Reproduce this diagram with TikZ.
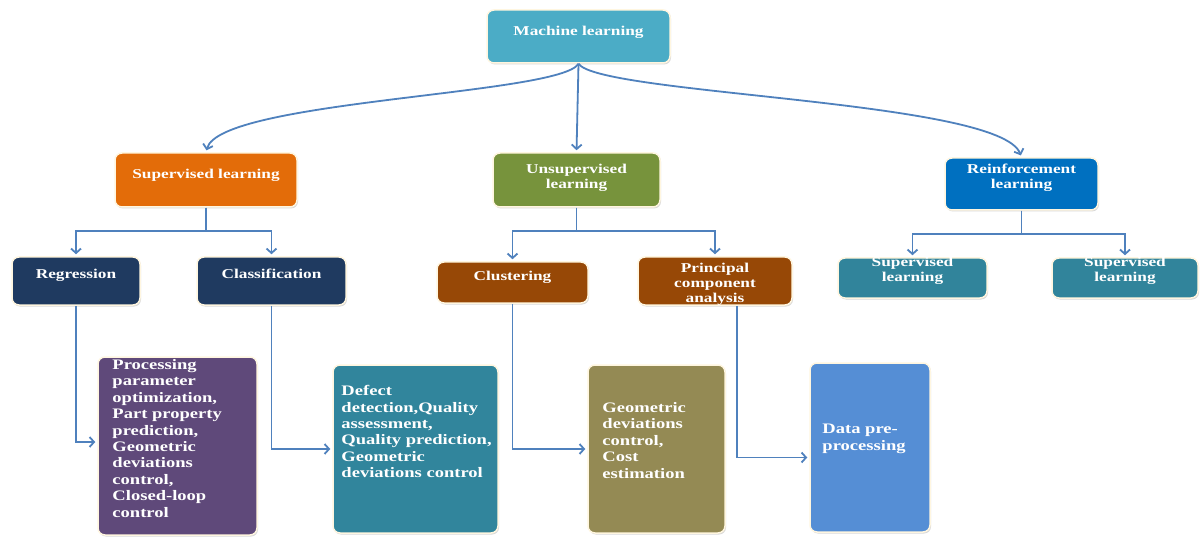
\documentclass[tikz,border=0pt]{standalone}
\usepackage{fontspec}
\newfontfamily\diagfont{Liberation Serif}[FakeStretch=1.28]
\usetikzlibrary{arrows.meta,shadows}

\definecolor{mlcol}{HTML}{4BACC6}
\definecolor{supcol}{HTML}{E36C09}
\definecolor{unscol}{HTML}{77933C}
\definecolor{rlcol}{HTML}{0070C0}
\definecolor{navycol}{HTML}{1F3A60}
\definecolor{browncol}{HTML}{974806}
\definecolor{rlkidcol}{HTML}{31849B}
\definecolor{purplecol}{HTML}{5F497A}
\definecolor{tealcol}{HTML}{31859C}
\definecolor{olivecol}{HTML}{948A54}
\definecolor{bluecol}{HTML}{558ED5}
\definecolor{linkcol}{HTML}{4F81BD}
\definecolor{rimcol}{HTML}{FFF6E0}

\begin{document}
\begin{tikzpicture}[x=1pt, y=-1pt, >={Straight Barb[length=4.5pt,width=10pt]}]
\tikzset{
  box/.style={
    rectangle,
    rounded corners=7pt,
    draw=rimcol,
    line width=1.5pt,
    drop shadow={opacity=.3, shadow xshift=1pt, shadow yshift=-1.5pt}
  },
  boxtext/.style={
    text=white,
    font=\diagfont\bfseries\fontsize{13.5}{15}\selectfont,
    align=center,
    inner sep=0pt,
    anchor=north
  },
  bigtext/.style={
    text=white,
    font=\diagfont\bfseries\fontsize{14.5}{16.4}\selectfont,
    align=left,
    inner sep=0pt,
    anchor=north west
  },
  link/.style={
    draw=linkcol,
    line width=1.8pt,
    ->,
    shorten >=2pt
  }
}
\fill[white] (0,0) rectangle (1200,540);
\useasboundingbox (0,0) rectangle (1200,540);

% root and first level
\node[box, fill=mlcol, minimum width=183pt, minimum height=53pt] (ml) at (578.5,36.5) {};
\node[boxtext] (ml-text) at ([yshift=-17pt]ml.north) {Machine learning};

\node[box, fill=supcol, minimum width=182pt, minimum height=54pt] (sup) at (206,180) {};
\node[boxtext] (sup-text) at ([yshift=-17pt]sup.north) {Supervised learning};

\node[box, fill=unscol, minimum width=167pt, minimum height=54pt] (uns) at (576.5,180) {};
\node[boxtext] (uns-text) at ([yshift=-12pt]uns.north) {Unsupervised\\learning};

\node[box, fill=rlcol, minimum width=153pt, minimum height=52pt] (rl) at (1021.5,184) {};
\node[boxtext] (rl-text) at ([yshift=-7pt]rl.north) {Reinforcement\\learning};

% second level
\node[box, fill=navycol, minimum width=128pt, minimum height=48pt] (reg) at (76,281) {};
\node[boxtext] (reg-text) at ([yshift=-13pt]reg.north) {Regression};

\node[box, fill=navycol, minimum width=149pt, minimum height=48pt] (cls) at (271.5,281) {};
\node[boxtext] (cls-text) at ([yshift=-13pt]cls.north) {Classification};

\node[box, fill=browncol, minimum width=151pt, minimum height=41pt] (clu) at (512.5,282.5) {};
\node[boxtext] (clu-text) at ([yshift=-10pt]clu.north) {Clustering};

\node[box, fill=browncol, minimum width=154pt, minimum height=48pt] (pca) at (715,281) {};
\node[boxtext] (pca-text) at ([yshift=-7pt]pca.north) {Principal\\component\\analysis};

\node[box, fill=rlkidcol, minimum width=149pt, minimum height=40pt] (rl1) at (912.5,278) {};
\node[boxtext] (rl1-text) at ([yshift=0pt]rl1.north) {Supervised\\learning};

\node[box, fill=rlkidcol, minimum width=146pt, minimum height=40pt] (rl2) at (1125,278) {};
\node[boxtext] (rl2-text) at ([yshift=0pt]rl2.north) {Supervised\\learning};

% applications
\node[box, fill=purplecol, minimum width=159pt, minimum height=178pt] (purple) at (177.5,446) {};
\node[bigtext] (purple-text) at ([xshift=15pt, yshift=-3pt]purple.north west)
  {Processing\\parameter\\optimization,\\Part property\\prediction,\\Geometric\\deviations\\control,\\Closed-loop\\control};

\node[box, fill=tealcol, minimum width=165pt, minimum height=168pt] (teal) at (415.5,449) {};
\node[bigtext] (teal-text) at ([xshift=9pt, yshift=-21pt]teal.north west)
  {Defect\\detection,Quality\\assessment,\\Quality prediction,\\Geometric\\deviations control};

\node[box, fill=olivecol, minimum width=137pt, minimum height=168pt] (olive) at (656.5,449) {};
\node[bigtext] (olive-text) at ([xshift=15pt, yshift=-38pt]olive.north west)
  {Geometric\\deviations\\control,\\Cost\\estimation};

\node[box, fill=bluecol, minimum width=120pt, minimum height=169pt] (blue) at (870,447.5) {};
\node[bigtext] (blue-text) at ([xshift=13pt, yshift=-62pt]blue.north west)
  {Data pre-\\processing};

% connectors
\draw[link] (ml.south) .. controls (560,95) and (220,100) .. (sup.north);
\draw[link] (ml.south) -- (uns.north);
\draw[link] (ml.south) .. controls (600,95) and (1000,100) .. (rl.north);

\foreach \p/\k in {sup/reg, sup/cls, uns/clu, uns/pca, rl/rl1, rl/rl2}
  \draw[link] (\p.south) -- ++(0,23) -| (\k.north);

\draw[link] (reg.south) |- ([yshift=4pt]purple.west);
\draw[link] (cls.south) |- (teal.west);
\draw[link] (clu.south) |- (olive.west);
\draw[link] ([xshift=22pt]pca.south) |- ([yshift=-10pt]blue.west);
\end{tikzpicture}
\end{document}
